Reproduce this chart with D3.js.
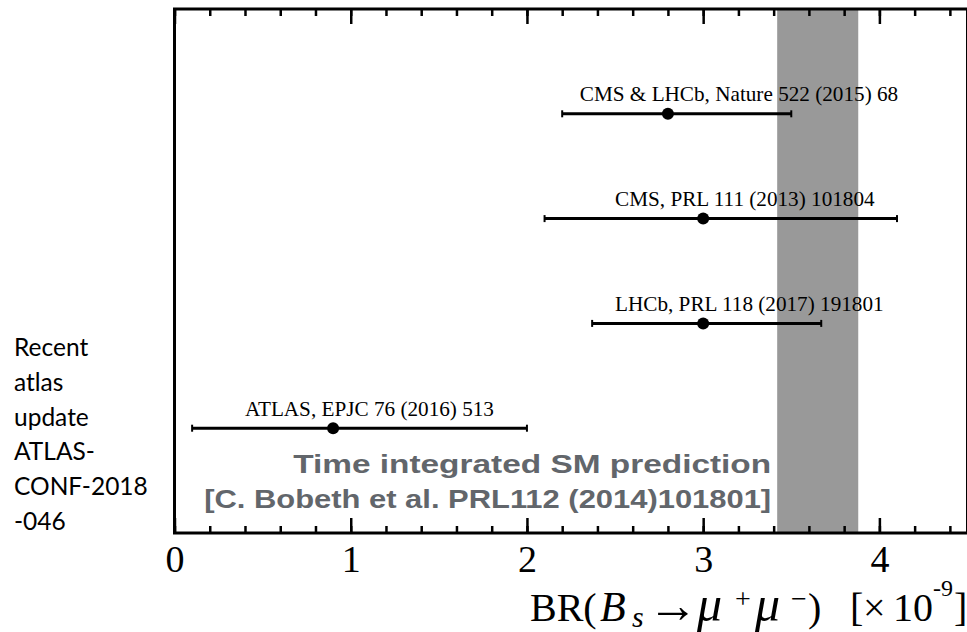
<!DOCTYPE html>
<html>
<head>
<meta charset="utf-8">
<script src="https://cdn.jsdelivr.net/npm/d3@7"></script>
<style>
  html, body { margin: 0; padding: 0; background: #fff; }
  svg { display: block; }
</style>
</head>
<body>
<svg id="chart" width="967" height="632"></svg>
<script>
// Measurements of BR(Bs -> mu+ mu-), bottom row first
const experiments = [
  "ATLAS, EPJC 76 (2016) 513",
  "LHCb, PRL 118 (2017) 191801",
  "CMS, PRL 111 (2013) 101804",
  "CMS & LHCb, Nature 522 (2015) 68"
];
const central = [0.9, 3.0, 3.0, 2.8];
const errLow  = [0.8, 0.63, 0.9, 0.6];
const errHigh = [1.1, 0.67, 1.1, 0.7];

// Standard Model prediction band
const smCentral = 3.65;
const smError = 0.23;
const smLines = ["Time integrated SM prediction", "[C. Bobeth et al. PRL112 (2014)101801]"];

const majorTicks = [0, 1, 2, 3, 4];
const minorTicks = d3.range(0, 4.5, 0.2).map(v => +v.toFixed(1));
const sideNote = ["Recent", "atlas", "update", "ATLAS-", "CONF-2018", "-046"];

const svg = d3.select("#chart");
const plotLeft = 174.5, plotRight = 967.5, plotTop = 9, plotBottom = 533;

const x = d3.scaleLinear().domain([0, 4.5]).range([plotLeft, plotRight]);
const y = d3.scaleLinear().domain([0, experiments.length + 1]).range([plotBottom, plotTop]);

const serif = "'Liberation Serif', 'Times New Roman', serif";

// SM band
svg.append("rect")
  .attr("x", x(smCentral - smError))
  .attr("y", plotTop)
  .attr("width", x(smCentral + smError) - x(smCentral - smError))
  .attr("height", plotBottom - plotTop)
  .attr("fill", "#999999");

// bottom axis: major + minor inward ticks
const gB = svg.append("g").attr("transform", `translate(0,${plotBottom})`);
gB.call(d3.axisBottom(x).tickValues(minorTicks).tickSize(-7).tickFormat(""));
gB.select(".domain").remove();
const gBM = svg.append("g").attr("transform", `translate(0,${plotBottom})`);
gBM.call(d3.axisBottom(x).tickValues(majorTicks).tickSize(-15).tickPadding(12).tickFormat(d3.format("d")));
gBM.select(".domain").remove();
gBM.selectAll("text").attr("font-family", serif).attr("font-size", 38).attr("fill", "#000");

// top axis ticks
const gT = svg.append("g").attr("transform", `translate(0,${plotTop})`);
gT.call(d3.axisTop(x).tickValues(minorTicks).tickSize(-7).tickFormat(""));
gT.select(".domain").remove();
const gTM = svg.append("g").attr("transform", `translate(0,${plotTop})`);
gTM.call(d3.axisTop(x).tickValues(majorTicks).tickSize(-15).tickFormat(""));
gTM.select(".domain").remove();
svg.selectAll(".tick line").attr("stroke", "#000").attr("stroke-width", 2.5);

// frame
svg.append("rect")
  .attr("x", plotLeft).attr("y", plotTop)
  .attr("width", plotRight - plotLeft).attr("height", plotBottom - plotTop)
  .attr("fill", "none").attr("stroke", "#000").attr("stroke-width", 3);

// measurements
const rows = svg.append("g").selectAll("g")
  .data(experiments.map((name, i) => ({ name, c: central[i], lo: errLow[i], hi: errHigh[i], row: i + 1 })))
  .join("g");

rows.append("line")
  .attr("x1", d => x(d.c - d.lo)).attr("x2", d => x(d.c + d.hi))
  .attr("y1", d => y(d.row)).attr("y2", d => y(d.row))
  .attr("stroke", "#000").attr("stroke-width", 3);
rows.selectAll("line.cap")
  .data(d => [{ v: d.c - d.lo, row: d.row }, { v: d.c + d.hi, row: d.row }])
  .join("line").attr("class", "cap")
  .attr("x1", d => x(d.v)).attr("x2", d => x(d.v))
  .attr("y1", d => y(d.row) - 3.5).attr("y2", d => y(d.row) + 3.5)
  .attr("stroke", "#000").attr("stroke-width", 2);
rows.append("circle")
  .attr("cx", d => x(d.c)).attr("cy", d => y(d.row)).attr("r", 6)
  .attr("fill", "#000");
rows.append("text")
  .attr("x", d => x(d.c - 0.5)).attr("y", d => y(d.row) - 12.5)
  .attr("font-family", serif).attr("font-size", 21.2).attr("fill", "#000")
  .text(d => d.name);

// SM prediction note (wide bold face, stretched to the original text widths)
const smWidths = [478, 567];
svg.append("g").selectAll("text").data(smLines).join("text")
  .attr("x", x(smCentral - smError) - 6)
  .attr("y", (d, i) => 473 + i * 34.5)
  .attr("text-anchor", "end")
  .attr("font-family", "'Liberation Sans', Arial, sans-serif")
  .attr("font-weight", "bold").attr("font-size", 26)
  .attr("textLength", (d, i) => smWidths[i])
  .attr("lengthAdjust", "spacingAndGlyphs")
  .attr("fill", "#62666b")
  .text(d => d);

// axis title, set piece by piece like a TLatex string
const titleBase = 621;
const titleParts = [
  { t: "BR(", x: 530 },
  { t: "B", x: 600, it: true, size: 42 },
  { t: "s", x: 632, it: true, size: 30, dy: 6 },
  { t: "→", x: 648, size: 50, dy: 1 },
  { t: "μ", x: 697, it: true, size: 50 },
  { t: "+", x: 735, size: 28, dy: -13 },
  { t: "μ", x: 755, it: true, size: 50 },
  { t: "−", x: 791, size: 28, dy: -13 },
  { t: ")", x: 808 },
  { t: "[", x: 850 },
  { t: "×", x: 863 },
  { t: "10", x: 893 },
  { t: "-9", x: 933, size: 24, dy: -25 },
  { t: "]", x: 954 }
];
const title = svg.append("g")
  .attr("font-family", serif).attr("font-size", 40).attr("fill", "#000");
title.selectAll("text").data(titleParts).join("text")
  .attr("x", d => d.x)
  .attr("y", d => titleBase + (d.dy || 0))
  .attr("font-style", d => d.it ? "italic" : null)
  .attr("font-size", d => d.size || null)
  .text(d => d.t);

// side note
svg.append("g").selectAll("text").data(sideNote).join("text")
  .attr("x", 14).attr("y", (d, i) => 356 + i * 34.8)
  .attr("font-family", "Lato, 'Noto Sans', sans-serif")
  .attr("font-size", 24.5).attr("fill", "#000")
  .text(d => d);
</script>
</body>
</html>
